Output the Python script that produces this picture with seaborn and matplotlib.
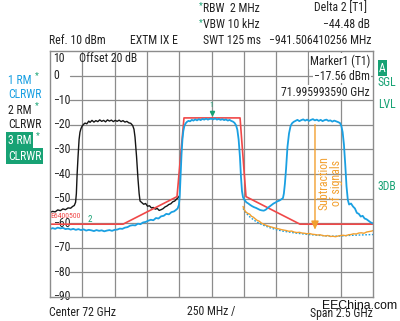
import matplotlib
matplotlib.use("Agg")
import matplotlib.pyplot as plt
import matplotlib.transforms as mtransforms
import pandas as pd
import seaborn as sns

# ---------------- data (frequency offset from 72 GHz in MHz, level in dBm) ----
black_f = [-1250, -1230, -1210, -1190, -1170, -1150, -1130, -1110, -1090, -1075,
           -1062, -1052, -1046, -1040, -1033, -1025, -1018, -1010, -1002, -990,
           -979, -965, -950, -940, -925, -910, -895, -880, -865, -850,
           -835, -820, -805, -790, -775, -760, -745, -730, -715, -700,
           -685, -670, -655, -640, -625, -610, -600, -592, -580, -569,
           -560, -553, -540, -525, -510, -495, -480, -465, -450, -435,
           -420, -405, -390, -375, -360, -345, -330, -315, -300, -285,
           -270, -258, -250]
black_db = [-55.6, -55.2, -55.4, -54.6, -54.9, -54.2, -54.5, -53.8, -53.9, -53.2,
            -52.8, -51.5, -48.0, -40.0, -33.0, -26.0, -23.0, -21.5, -20.6, -19.8,
            -19.3, -19.6, -18.5, -19.0, -18.2, -18.9, -18.3, -18.7, -18.0, -18.6,
            -18.2, -18.8, -18.0, -18.5, -18.1, -18.7, -18.2, -18.6, -18.1, -18.7,
            -18.3, -18.9, -18.6, -19.2, -19.4, -20.3, -21.8, -25.0, -33.0, -42.0,
            -48.0, -51.0, -51.6, -52.3, -52.0, -53.1, -52.9, -53.8, -53.6, -54.3,
            -54.0, -54.8, -54.5, -54.1, -53.4, -53.0, -52.4, -52.1, -51.3, -51.0,
            -50.2, -49.6, -49.0]

blue_f = [-1250, -1230, -1210, -1190, -1170, -1150, -1130, -1110, -1090, -1070,
          -1050, -1030, -1010, -990, -970, -950, -930, -910, -890, -870,
          -850, -830, -810, -790, -770, -750, -730, -710, -690, -670,
          -650, -630, -610, -590, -570, -550, -530, -510, -490, -470,
          -450, -430, -410, -390, -370, -350, -330, -310, -290, -275,
          -262, -252, -246, -240, -232, -225, -218, -210, -200, -190,
          -178, -166, -152, -140, -126, -112, -98, -84, -70, -56,
          -42, -28, -14, 0, 14, 28, 42, 56, 70, 84,
          98, 112, 126, 140, 152, 166, 178, 190, 200, 210,
          220, 228, 236, 244, 256, 270, 285, 300, 315, 330,
          345, 360, 375, 390, 405, 420, 435, 450, 465, 480,
          495, 510, 525, 540, 553, 560, 568, 577, 588, 600,
          612, 623, 636, 650, 665, 680, 695, 710, 725, 740,
          755, 770, 785, 800, 815, 830, 845, 860, 875, 890,
          905, 920, 935, 950, 965, 980, 995, 1005, 1015, 1025,
          1035, 1045, 1055, 1065, 1080, 1095, 1110, 1125, 1140, 1155,
          1170, 1185, 1200, 1215, 1230, 1250]
blue_db = [-62.4, -62.0, -62.3, -61.8, -62.1, -61.9, -62.4, -62.2, -62.6, -62.3,
           -62.7, -62.4, -62.8, -62.5, -63.0, -62.7, -62.9, -63.2, -62.8, -63.1,
           -62.9, -63.3, -63.0, -62.8, -63.1, -62.7, -62.6, -62.2, -62.3, -61.8,
           -61.6, -61.0, -60.8, -60.9, -60.2, -60.4, -59.7, -59.5, -59.0, -58.6,
           -58.8, -57.9, -58.1, -57.2, -57.0, -56.2, -56.4, -55.5, -55.2, -54.6,
           -54.0, -52.5, -49.0, -42.0, -32.0, -26.0, -22.5, -20.5, -19.4, -18.8,
           -18.4, -18.6, -18.0, -18.3, -17.8, -18.2, -17.7, -18.1, -17.6, -17.9,
           -17.5, -17.9, -17.6, -17.56, -17.8, -17.4, -17.9, -17.6, -18.0, -17.7,
           -18.1, -17.8, -18.3, -18.0, -18.4, -18.7, -19.2, -20.2, -22.0, -26.0,
           -33.0, -41.0, -47.0, -49.5, -50.6, -51.5, -52.0, -52.6, -53.1, -53.5,
           -53.8, -54.2, -54.6, -54.8, -54.9, -54.5, -53.8, -53.2, -52.6, -52.0,
           -51.6, -51.1, -50.8, -50.3, -49.8, -48.0, -44.0, -38.0, -29.0, -23.5,
           -20.5, -19.4, -18.8, -18.4, -18.0, -18.5, -18.1, -17.8, -18.3, -17.9,
           -18.4, -18.0, -17.7, -18.2, -17.9, -18.4, -18.0, -18.5, -18.1, -17.9,
           -18.4, -18.2, -18.7, -18.3, -18.6, -18.9, -19.3, -20.5, -23.0, -28.0,
           -36.0, -45.0, -50.5, -52.4, -52.0, -53.2, -54.0, -55.8, -56.2, -57.3,
           -57.0, -58.1, -58.4, -59.0, -59.6, -60.1]

limit_f = [-1250, -685, -267, -213, 221, 267, 685, 1250]
limit_db = [-60.4, -60.4, -49.2, -17.2, -17.2, -49.2, -60.4, -60.4]

sub_f = [244, 255, 265, 280, 295, 310, 325, 340, 355, 370,
         385, 400, 420, 440, 460, 480, 500, 520, 540, 560,
         580, 600, 620, 640, 660, 680, 700, 720, 740, 760,
         780, 800, 820, 840, 860, 880, 900, 920, 940, 960,
         980, 1000, 1020, 1040, 1060, 1080, 1100, 1120, 1140, 1160,
         1180, 1200, 1220, 1240, 1250]
sub_db = [-53.2, -54.6, -55.4, -56.0, -56.3, -57.2, -57.6, -58.3, -58.9, -59.2,
          -59.9, -60.3, -60.8, -61.2, -61.5, -61.8, -62.1, -62.3, -62.6, -62.8,
          -63.0, -63.3, -63.2, -63.6, -63.8, -63.7, -64.0, -64.1, -64.3, -64.2,
          -64.5, -64.6, -64.8, -64.7, -65.0, -65.2, -65.0, -65.4, -65.3, -65.5,
          -65.2, -65.0, -64.9, -65.1, -64.7, -64.6, -64.3, -64.4, -64.0, -63.9,
          -64.1, -63.6, -63.4, -63.2, -63.0]

dot_f = [244, 270, 300, 330, 360, 400, 450, 500, 550, 600, 650, 700,
         750, 800, 850, 900, 950, 1000, 1050, 1100, 1150, 1200, 1250]
dot_db = [-54.0, -56.0, -57.6, -58.8, -59.8, -60.8, -61.8, -62.6, -63.2, -63.6,
          -64.0, -64.3, -64.6, -64.8, -65.0, -65.2, -65.3, -65.2, -65.0, -64.9,
          -64.8, -64.7, -64.6]

y_ticks = [10, 0, -10, -20, -30, -40, -50, -60, -70, -80, -90]
x_grid = [-1250, -1000, -750, -500, -250, 0, 250, 500, 750, 1000, 1250]
marker1 = (0, -17.56)
marker2 = (-941.5, -62.04)

# ---------------- style ------------------------------------------------------
sns.set_style("white")
plt.rcParams["font.family"] = ["Roboto Condensed", "DejaVu Sans"]
FS = 8.5
INK = "#222222"
BLUE = "#1aa0e2"
RED = "#f04848"
ORANGE = "#f2a030"
GREEN = "#17a274"
GRID = "#8c8c8c"

W, H = 400, 321
fig = plt.figure(figsize=(W / 100, H / 100), dpi=100)
ax = fig.add_axes([50 / W, 1 - 297 / H, 323 / W, 246 / H])
ax.set_xlim(-1250, 1250)
ax.set_ylim(-90, 10)
ax.set_xticks([])
ax.set_yticks([])
for s in ax.spines.values():
    s.set_color(GRID)
    s.set_linewidth(1.0)

# grid
for xv in x_grid[1:-1]:
    ax.axvline(xv, color=GRID, lw=0.9, zorder=0.5)
for yv in y_ticks[1:-1]:
    ax.axhline(yv, xmin=0.062, color=GRID, lw=0.9, zorder=0.5)

# traces
def trace(f, db, color, lw, ls="-", z=2):
    df = pd.DataFrame({"f": f, "db": db})
    sns.lineplot(data=df, x="f", y="db", sort=False, estimator=None,
                 color=color, lw=lw, ls=ls, ax=ax, zorder=z)

trace(black_f, black_db, "#151515", 1.0, z=2)
trace(limit_f, limit_db, RED, 1.2, z=2.2)
trace(dot_f, dot_db, BLUE, 1.0, ls=(0, (1.2, 1.2)), z=2.3)
trace(sub_f, sub_db, ORANGE, 1.0, z=2.4)
trace(blue_f, blue_db, BLUE, 1.3, z=2.5)
ax.set_xlabel("")
ax.set_ylabel("")

# arrow & annotation
ax.annotate("", xy=(801, -63.8), xytext=(801, -18.8),
            arrowprops=dict(arrowstyle="-|>,head_length=0.5,head_width=0.22",
                            color=ORANGE, lw=1.0), zorder=3)
ax.text(917, -43.6, "Subtraction\nof signals", rotation=90, color=ORANGE,
        fontsize=8.6, ha="center", va="center", linespacing=0.95, zorder=3)

# markers
ax.plot([marker1[0]], [marker1[1] + 2.4], marker="v", ms=3.0, color=GREEN, zorder=4)
ax.text(marker1[0], marker1[1] + 4.2, "1", color=GREEN, fontsize=5.5, ha="center",
        va="bottom", zorder=4)
ax.text(marker2[0], marker2[1] + 1.6, "2", color=GREEN, fontsize=6.5, ha="center",
        va="bottom", zorder=4)
ax.text(-1245, -57.0, "E6400500", color=RED, fontsize=5.6, ha="left", va="center",
        zorder=4)

# y labels inside the axes
btr = mtransforms.blended_transform_factory(ax.transAxes, ax.transData)
for yv in y_ticks:
    ypos = 7.0 if yv == 10 else yv
    lab = str(yv).replace("-", "\u2212")
    ax.text(0.009, ypos, lab, transform=btr, fontsize=FS, ha="left",
            va="center", color=INK, clip_on=False, zorder=1)

ax.text(-1022, 7.0, "Offset 20 dB", fontsize=FS, ha="left", va="center",
        color=INK, zorder=1)

# marker readout box (white background)
bb = dict(facecolor="white", edgecolor="none", pad=0.6)
def ptext(x, y, s, **kw):
    fig.text(x / W, 1 - y / H, s, **kw)

for yy, s in [(61, "Marker1 (T1)"), (76, "\u221217.56 dBm"), (92, "71.995993590 GHz")]:
    ptext(370, yy, s, fontsize=FS, ha="right", va="center", color=INK,
          bbox=bb, zorder=5)

# header
ptext(49, 41, "Ref. 10 dBm", fontsize=FS, ha="left", va="center", color=INK)
ptext(130, 41, "EXTM IX E", fontsize=FS, ha="left", va="center", color=INK)
ptext(203, 8, "RBW  2 MHz", fontsize=FS, ha="left", va="center", color=INK)
ptext(203, 25, "VBW 10 kHz", fontsize=FS, ha="left", va="center", color=INK)
ptext(203, 41, "SWT 125 ms", fontsize=FS, ha="left", va="center", color=INK)
ptext(200.5, 6, "*", fontsize=6.5, ha="center", va="center", color=GREEN)
ptext(200.5, 23, "*", fontsize=6.5, ha="center", va="center", color=GREEN)
ptext(367, 8, "Delta 2 [T1]", fontsize=FS, ha="right", va="center", color=INK)
ptext(370, 25, "\u221244.48 dB", fontsize=FS, ha="right", va="center", color=INK)
ptext(371, 41, "\u2212941.506410256 MHz", fontsize=FS, ha="right", va="center",
      color=INK)

# left trace legend
ptext(8, 80, "1 RM", fontsize=FS, ha="left", va="center", color=BLUE)
ptext(37, 76, "*", fontsize=6.5, ha="center", va="center", color=GREEN)
ptext(8, 95, "CLRWR", fontsize=FS, ha="left", va="center", color=BLUE)
ptext(8, 110, "2 RM", fontsize=FS, ha="left", va="center", color=INK)
ptext(37, 106, "*", fontsize=6.5, ha="center", va="center", color=GREEN)
ptext(8, 125, "CLRWR", fontsize=FS, ha="left", va="center", color=INK)
gb = dict(facecolor=GREEN, edgecolor="none", pad=1.4)
ptext(8, 140, "3 RM", fontsize=FS, ha="left", va="center", color="white", bbox=gb)
ptext(38, 136, "*", fontsize=6.5, ha="center", va="center", color=GREEN)
ptext(8, 156, "CLRWR", fontsize=FS, ha="left", va="center", color="white", bbox=gb)

# right status labels
ptext(379, 68, "A", fontsize=FS, ha="left", va="center", color="white",
      bbox=dict(facecolor=GREEN, edgecolor="none", pad=0.8))
ptext(378, 82, "SGL", fontsize=FS, ha="left", va="center", color=GREEN)
ptext(378, 104, "LVL", fontsize=FS, ha="left", va="center", color=GREEN)
ptext(378, 187, "3DB", fontsize=FS, ha="left", va="center", color=GREEN)

# footer
ptext(49, 312, "Center 72 GHz", fontsize=FS, ha="left", va="center", color=INK)
ptext(211, 312, "250 MHz /", fontsize=FS, ha="center", va="center", color=INK)
ptext(373, 313, "Span 2.5 GHz", fontsize=FS, ha="right", va="center", color=INK)
fig.text(322 / W, 1 - 306 / H, "EEChina.com", fontsize=8.8, ha="left", va="center",
         color="#111111", family=["Liberation Sans"], zorder=6)

fig.savefig("out.png", dpi=100)
